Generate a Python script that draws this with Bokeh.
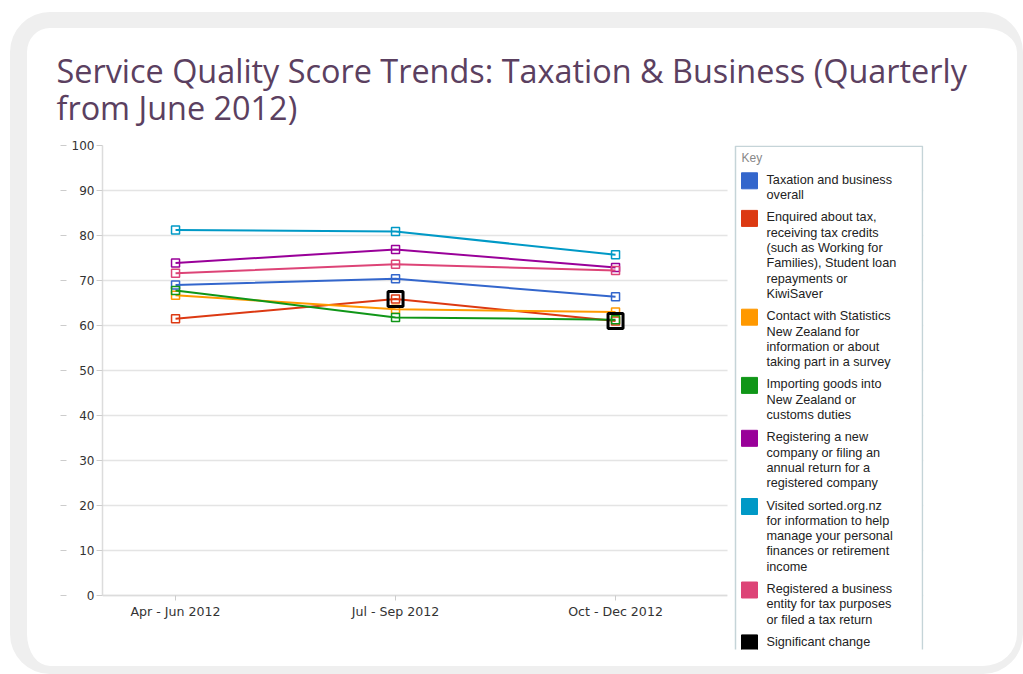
from bokeh.plotting import figure
from bokeh.models import (ColumnDataSource, FixedTicker, BoxAnnotation, Label,
                          Range1d, LinearAxis, InlineStyleSheet, CustomJSTickFormatter)
from bokeh.embed import file_html
from bokeh.resources import INLINE

# ---------------- data ----------------
quarters = ["Apr - Jun 2012", "Jul - Sep 2012", "Oct - Dec 2012"]
quarter_pos = [0, 1, 2]

overall = [69.0, 70.4, 66.4]
enquired_tax = [61.5, 65.9, 61.0]
stats_nz = [66.7, 63.6, 63.0]
importing = [67.8, 61.8, 61.3]
new_company = [73.9, 76.9, 72.9]
sorted_org = [81.2, 80.9, 75.7]
business_entity = [71.6, 73.6, 72.2]

series_values = [overall, enquired_tax, stats_nz, importing, new_company, sorted_org, business_entity]
series_labels = [
    "Taxation and business\noverall",
    "Enquired about tax,\nreceiving tax credits\n(such as Working for\nFamilies), Student loan\nrepayments or\nKiwiSaver",
    "Contact with Statistics\nNew Zealand for\ninformation or about\ntaking part in a survey",
    "Importing goods into\nNew Zealand or\ncustoms duties",
    "Registering a new\ncompany or filing an\nannual return for a\nregistered company",
    "Visited sorted.org.nz\nfor information to help\nmanage your personal\nfinances or retirement\nincome",
    "Registered a business\nentity for tax purposes\nor filed a tax return",
]
series_colors = ["#3366cc", "#dc3912", "#ff9900", "#109618", "#990099", "#0099c6", "#dd4477"]

significant_label = "Significant change"
significant_color = "black"
significant_series = [1, 1]
significant_quarter = [1, 2]

y_ticks = [0, 10, 20, 30, 40, 50, 60, 70, 80, 90, 100]
title_text = "Service Quality Score Trends: Taxation & Business (Quarterly\nfrom June 2012)"
legend_title = "Key"

# ---------------- layout constants ----------------
LEFT, TOP = 102, 145      # frame position on the canvas
PX_X = 220.0              # pixels per quarter
PX_Y = 4.5                # pixels per score point
FRAME_W, FRAME_H = 821, 504
X0 = -0.332               # left edge of frame in quarter units
X_DATA_END = 2.509        # right edge of the chart area (key sits beyond it)
X1 = X0 + FRAME_W / PX_X
Y1 = 100.0
Y0 = Y1 - FRAME_H / PX_Y


def fx(px):
    return X0 + (px - LEFT) / PX_X


def fy(py):
    return Y1 - (py - TOP) / PX_Y


frame_css = InlineStyleSheet(css="""
:host { position: relative; }
:host::after {
  content: ""; position: absolute; left: 10px; top: 12px; right: 0px; bottom: 0px;
  border-style: solid; border-color: #efefef;
  border-width: 16px 6px 8px 17px; border-radius: 40px;
  pointer-events: none; box-sizing: border-box;
}
""")

p = figure(frame_width=FRAME_W, frame_height=FRAME_H,
           output_backend="svg", toolbar_location=None,
           x_range=Range1d(X0, X1), y_range=Range1d(Y0, Y1),
           min_border_left=LEFT, min_border_right=100, min_border_top=TOP, min_border_bottom=25,
           background_fill_color="white", border_fill_color="white",
           outline_line_color=None, title=title_text, stylesheets=[frame_css])

p.title.text_font = "Open Sans"
p.title.text_font_size = "32.4px"
p.title.text_font_style = "normal"
p.title.text_color = "#5b4060"
p.title.align = "left"
p.title.offset = -46
p.title.standoff = 33
p.title.text_line_height = 0.83

# axes
p.yaxis.ticker = FixedTicker(ticks=y_ticks)
p.yaxis.bounds = (0, 100)
p.yaxis.axis_line_color = "#dcdcdc"
p.yaxis.axis_line_width = 1.5
p.yaxis.major_tick_line_color = "#cccccc"
p.yaxis.major_tick_out = 6
p.yaxis.major_tick_in = 0
p.yaxis.minor_tick_line_color = None
p.yaxis.major_label_standoff = 2
p.yaxis.major_label_text_font = "DejaVu Sans"
p.yaxis.major_label_text_font_size = "12px"
p.yaxis.major_label_text_color = "#333333"

dash_axis = LinearAxis(ticker=FixedTicker(ticks=y_ticks), bounds=(0, 100), axis_line_color=None,
                       major_tick_line_color="#cccccc", major_tick_in=-2, major_tick_out=8,
                       minor_tick_line_color=None,
                       formatter=CustomJSTickFormatter(code="return ''"),
                       major_label_standoff=0)
p.add_layout(dash_axis, "left")

p.xaxis.ticker = FixedTicker(ticks=quarter_pos)
p.xaxis.major_label_overrides = {i: q for i, q in zip(quarter_pos, quarters)}
p.xaxis.fixed_location = 0
p.xaxis.bounds = (X0, X_DATA_END)
p.xaxis.axis_line_color = "#dcdcdc"
p.xaxis.axis_line_width = 1.5
p.xaxis.major_tick_line_color = "#cccccc"
p.xaxis.major_tick_out = 5
p.xaxis.major_tick_in = 0
p.xaxis.minor_tick_line_color = None
p.xaxis.major_label_standoff = 3
p.xaxis.major_label_text_font = "DejaVu Sans"
p.xaxis.major_label_text_font_size = "12.6px"
p.xaxis.major_label_text_color = "#333333"

p.xgrid.visible = False
p.ygrid.ticker = FixedTicker(ticks=y_ticks)
p.ygrid.grid_line_color = "#e4e4e4"
p.ygrid.grid_line_width = 1.5

# ---------------- series ----------------
for vals, col in zip(series_values, series_colors):
    src = ColumnDataSource(dict(x=quarter_pos, y=vals))
    p.line("x", "y", source=src, line_color=col, line_width=2)
    p.scatter("x", "y", source=src, marker="square", size=8, line_color=col,
              line_width=1.5, fill_alpha=0)

sig_src = ColumnDataSource(dict(
    x=[quarter_pos[q] for q in significant_quarter],
    y=[series_values[s][q] for s, q in zip(significant_series, significant_quarter)]))
p.scatter("x", "y", source=sig_src, marker="square", size=15, line_color=significant_color,
          line_width=3, fill_alpha=0)

# white mask so the grid stops where the chart area ends
p.add_layout(BoxAnnotation(left=X_DATA_END, fill_color="white", fill_alpha=1,
                           line_color=None, line_alpha=0))

# ---------------- key (legend) ----------------
KEY_L, KEY_R, KEY_T = 735, 922, 145.75
LINE_H, ITEM_GAP, FIRST_LINE = 15.3, 7.0, 179.3
SW_X0, SW_SIZE, TXT_X = 741, 16, 766

p.add_layout(BoxAnnotation(left=fx(KEY_L), right=fx(KEY_R), top=fy(KEY_T), bottom=fy(700),
                           fill_color="white", fill_alpha=1,
                           line_color="#c5d4d8", line_alpha=1, line_width=1.5))
p.add_layout(Label(x=fx(SW_X0), y=fy(157.5), text=legend_title, text_baseline="middle",
                   text_font="Liberation Sans", text_font_size="12px", text_color="#888888"))

key_labels = series_labels + [significant_label]
key_colors = series_colors + [significant_color]
yc = FIRST_LINE
for lab, col in zip(key_labels, key_colors):
    lines = lab.split("\n")
    sw_top = yc - 7
    p.add_layout(BoxAnnotation(left=fx(SW_X0), right=fx(SW_X0 + SW_SIZE),
                               top=fy(sw_top), bottom=fy(sw_top + SW_SIZE),
                               fill_color=col, fill_alpha=1, line_color=col, line_alpha=1,
                               line_width=1))
    for j, ln in enumerate(lines):
        p.add_layout(Label(x=fx(TXT_X), y=fy(yc + j * LINE_H), text=ln, text_baseline="middle",
                           text_font="Liberation Sans", text_font_size="12.7px",
                           text_color="#222222"))
    yc += len(lines) * LINE_H + ITEM_GAP

open("out.html", "w").write(file_html(p, INLINE))
